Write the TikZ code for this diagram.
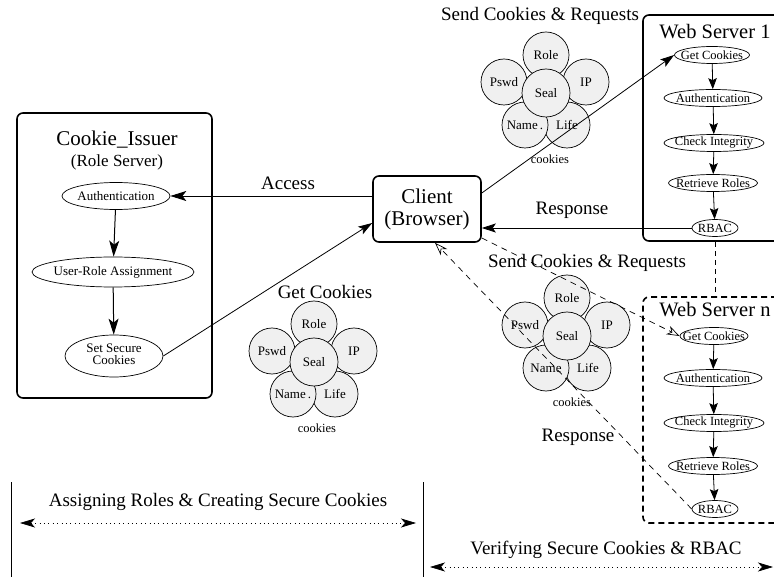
\documentclass[tikz,border=0pt]{standalone}
\usepackage{fontspec}
\setmainfont{Liberation Serif}
\usetikzlibrary{arrows.meta,shapes.geometric}
\newcommand{\myfs}[1]{\fontsize{#1}{#1}\selectfont}
\newcommand{\zb}[1]{\makebox[0pt]{#1}}
\newcommand{\cookieset}[5]{%
  \begin{scope}[shift={(#2,#3)}]
    \node[ck] (#1pswd) at (-42,-11) {Pswd};
    \node[ck] (#1role) at (0,-38) {Role};
    \node[ck] (#1ip) at (40,-11) {IP};
    \node[ck] (#1life) at (21,32) {Life};
    \node[ck] (#1name) at (-21,32) {#4};
    \node[ck,minimum size=48pt] (#1seal) at (0,0) {Seal};
    \node[font=\myfs{12.5}] (#1lab) at (#5,66) {cookies};
  \end{scope}}
\begin{document}
\begin{tikzpicture}[x=1pt,y=-1pt,
  box/.style={draw,line width=1.6pt,rounded corners=6pt,inner sep=0pt},
  dbox/.style={box,dash pattern=on 6pt off 4pt},
  ell/.style={draw,ellipse,line width=0.7pt,inner sep=0pt,font=\myfs{13}},
  sell/.style={draw,ellipse,line width=0.7pt,inner sep=0pt,minimum height=17pt,font=\myfs{12.5}},
  ck/.style={draw,circle,fill=gray!12,line width=0.7pt,minimum size=46pt,inner sep=0pt,font=\myfs{13}},
  big/.style={font=\myfs{20.5}},
  lbl/.style={font=\myfs{19}},
  arr/.style={line width=0.8pt,-{Stealth[length=14pt,width=9pt,inset=3pt]}},
  arrL/.style={line width=1pt,-{Stealth[length=16pt,width=10pt,inset=4pt]}},
  sarr/.style={line width=0.8pt,-{Stealth[length=11pt,width=8.5pt,inset=2pt]}},
  darr/.style={line width=0.7pt,dash pattern=on 6pt off 5pt,-{Stealth[open,length=13pt,width=9pt,inset=4pt]}},
  dotarr/.style={line width=0.7pt,dash pattern=on 0.8pt off 3.6pt,{Stealth[length=15pt,width=9pt,inset=4pt]}-{Stealth[length=15pt,width=9pt,inset=4pt]}}
]
\useasboundingbox (0,0) rectangle (774,577);
\clip (0,0) rectangle (774,577);

% Cookie issuer
\node[box,minimum width=195pt,minimum height=285pt] (issuer) at (114.5,255.5) {};
\node[font=\myfs{21}] (issT) at (117,140) {Cookie\_Issuer};
\node[font=\myfs{17}] (issS) at (117,162) {(Role Server)};
\node[ell,minimum width=108pt,minimum height=27pt] (auth) at (116,196) {\zb{Authentication}};
\node[ell,minimum width=162pt,minimum height=30pt] (ura) at (113,272) {\zb{User-Role Assignment}};
\node[ell,minimum width=98pt,minimum height=42pt] (ssc) at (114,356)
  {\zb{\fontsize{13}{11}\selectfont\begin{tabular}{@{}c@{}}Set Secure\\Cookies\end{tabular}}};

% Client
\node[box,minimum width=108pt,minimum height=66pt,align=center,
  font=\fontsize{21}{22}\selectfont] (client) at (427,209) {Client\\(Browser)};

% Web server 1
\node[box,minimum width=150pt,minimum height=226pt] (ws1) at (718,128) {};
\node[big] (ws1T) at (715,32) {Web Server 1};
\node[sell,minimum width=75pt] (gc1) at (712,55) {\zb{Get Cookies}};
\node[sell,minimum width=98pt] (au1) at (713,98) {\zb{Authentication}};
\node[sell,minimum width=100pt] (ci1) at (714,143) {\zb{Check Integrity}};
\node[sell,minimum width=89pt] (rr1) at (713,183) {\zb{Retrieve Roles}};
\node[sell,minimum width=46pt] (rb1) at (715,228) {\zb{RBAC}};

% Web server n
\node[dbox,minimum width=150pt,minimum height=226pt] (wsn) at (718,410) {};
\node[big] (wsnT) at (715,310) {Web Server n};
\node[sell,minimum width=68pt] (gcn) at (714,336) {\zb{Get Cookies}};
\node[sell,minimum width=98pt] (aun) at (713,378) {\zb{Authentication}};
\node[sell,minimum width=100pt] (cin) at (714,423) {\zb{Check Integrity}};
\node[sell,minimum width=89pt] (rrn) at (713,466) {\zb{Retrieve Roles}};
\node[sell,minimum width=46pt] (rbn) at (715,509) {\zb{RBAC}};

% cookies clusters
\cookieset{t}{546}{93}{Name\,.}{4}
\cookieset{l}{314}{362}{Name\,.}{3}
\cookieset{m}{567}{336}{Name}{5}

% labels
\node[lbl] (accL) at (288,183) {Access};
\node[lbl] (resL) at (572,210) {Response};
\node[lbl] (gcL) at (325,292) {Get Cookies};
\node[lbl] (sendT) at (540,16) {Send Cookies \& Requests};
\node[lbl] (sendM) at (587,263) {Send Cookies \& Requests};
\node[lbl] (resM) at (578,437) {Response};
\node[lbl] (assign) at (218,502) {Assigning Roles \& Creating Secure Cookies};
\node[lbl] (verify) at (606,550) {Verifying Secure Cookies \& RBAC};

% internal arrows
\draw[arrL] (auth) -- (ura);
\draw[arrL] (ura) -- (ssc);
\draw[sarr] (gc1) -- (au1);
\draw[sarr] (au1) -- (ci1);
\draw[sarr] (ci1) -- (rr1);
\draw[sarr] (rr1) -- (rb1);
\draw[sarr] (gcn) -- (aun);
\draw[sarr] (aun) -- (cin);
\draw[sarr] (cin) -- (rrn);
\draw[sarr] (rrn) -- (rbn);

% connectors
\draw[arrL,line width=0.8pt] (client.west |- auth.east) -- (auth.east);
\draw[arr] (ssc.east) -- ([yshift=-14pt]client.west);
\draw[arr] ([yshift=16pt]client.east) -- (gc1.west);
\draw[arr] (rb1.west) -- (client.east |- rb1.west);
\draw[darr] ([yshift=-29pt]client.east) -- (gcn.west);
\draw[darr] (rbn.west) -- ([xshift=8pt]client.south);
\draw[line width=0.7pt,dash pattern=on 5pt off 4pt] (ws1.south -| rb1.south) -- (wsn.north -| rb1.south);

% bottom
\coordinate (v1t) at (11,482);
\coordinate (v1b) at (11,577);
\coordinate (v2t) at (423,482);
\coordinate (v2b) at (423,577);
\draw[line width=0.7pt] (v1t) -- (v1b);
\draw[line width=0.7pt] (v2t) -- (v2b);
\coordinate (a1) at (20,523);
\coordinate (a2) at (416,523);
\coordinate (b1) at (430,567);
\coordinate (b2) at (773,567);
\draw[dotarr] (a1) -- (a2);
\draw[dotarr] (b1) -- (b2);
\end{tikzpicture}
\end{document}
